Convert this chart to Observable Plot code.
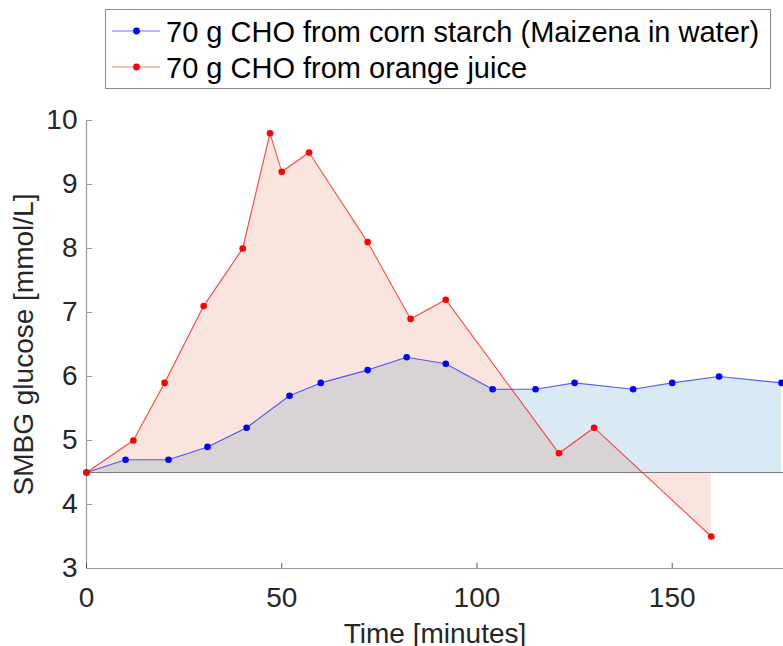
<!DOCTYPE html>
<html>
<head>
<meta charset="utf-8">
<script src="https://cdn.jsdelivr.net/npm/d3@7"></script>
<script src="https://cdn.jsdelivr.net/npm/@observablehq/plot@0.6"></script>
<style>
  body { margin: 0; background: #fff; font-family: "Liberation Sans", Arial, Helvetica, sans-serif; }
  #legend { width: 783px; height: 100px; }
  #legend svg, #chart svg { display: block; }
</style>
</head>
<body>
<div id="legend"></div>
<div id="chart"></div>
<script>
// ---- Data ----
const seriesNames = ["70 g CHO from corn starch (Maizena in water)", "70 g CHO from orange juice"];
const seriesColors = ["blue", "red"];
const starchTime = [0, 10, 21, 31, 41, 52, 60, 72, 82, 92, 104, 115, 125, 140, 150, 162, 178];
const starchGlucose = [4.5, 4.7, 4.7, 4.9, 5.2, 5.7, 5.9, 6.1, 6.3, 6.2, 5.8, 5.8, 5.9, 5.8, 5.9, 6.0, 5.9];
const juiceTime = [0, 12, 20, 30, 40, 47, 50, 57, 72, 83, 92, 121, 130, 160];
const juiceGlucose = [4.5, 5.0, 5.9, 7.1, 8.0, 9.8, 9.2, 9.5, 8.1, 6.9, 7.2, 4.8, 5.2, 3.5];
const baselineGlucose = 4.5;
const xTicks = [0, 50, 100, 150];
const yTicks = [3, 4, 5, 6, 7, 8, 9, 10];
const xLabel = "Time [minutes]";
const yLabel = "SMBG glucose [mmol/L]";

const starch = starchTime.map((t, i) => ({t, g: starchGlucose[i]}));
const juice = juiceTime.map((t, i) => ({t, g: juiceGlucose[i]}));

const FONT = '"Liberation Sans", Arial, Helvetica, sans-serif';
const TEXT = "#262626";
const AXIS = "#9a9a9a";

// ---- Legend (above the plot) ----
const lsvg = d3.select("#legend").append("svg").attr("width", 783).attr("height", 100)
  .style("font-family", FONT);
lsvg.append("rect").attr("x", 105.5).attr("y", 9.5).attr("width", 665).attr("height", 79)
  .attr("fill", "#fff").attr("stroke", "#8a8a8a").attr("stroke-width", 1);
seriesNames.forEach((name, i) => {
  const yy = 31 + i * 36;
  const g = lsvg.append("g");
  g.append("line").attr("x1", 112).attr("x2", 160).attr("y1", yy).attr("y2", yy)
    .attr("stroke", seriesColors[i]).attr("stroke-opacity", i === 0 ? 0.55 : 0.5).attr("stroke-width", 1.2);
  g.append("circle").attr("cx", 136.5).attr("cy", yy).attr("r", 3.4).attr("fill", seriesColors[i]);
  g.append("text").attr("x", 166).attr("y", yy + 11).attr("font-size", 29).attr("fill", "#000").text(name);
});

// ---- Chart ----
const chart = Plot.plot({
  width: 783,
  height: 546,
  marginLeft: 86,
  marginRight: 0,
  marginTop: 20,
  marginBottom: 78,
  style: {fontFamily: FONT, fontSize: "28px", color: TEXT, background: "#fff", overflow: "visible"},
  x: {domain: [0, 178.5], label: null},
  y: {domain: [3, 10], label: null},
  marks: [
    Plot.areaY(starch, {x: "t", y1: baselineGlucose, y2: "g", fill: "#0072bd", fillOpacity: 0.15}),
    Plot.areaY(juice, {x: "t", y1: baselineGlucose, y2: "g", fill: "#d95319", fillOpacity: 0.15}),
    Plot.ruleY([baselineGlucose], {stroke: "#7a7a7a", strokeWidth: 1}),
    Plot.ruleX([0], {stroke: AXIS, strokeWidth: 1.2}),
    Plot.ruleY([3], {stroke: AXIS, strokeWidth: 1.2}),
    Plot.axisX(xTicks, {tickSize: -5, tickPadding: 24, stroke: "#555", fill: TEXT, fontSize: 28, label: null, tickFormat: d => String(d)}),
    Plot.axisY(yTicks, {tickSize: -6, tickPadding: 15, stroke: AXIS, fill: TEXT, fontSize: 28, label: null, tickFormat: d => String(d)}),
    Plot.line(starch, {x: "t", y: "g", stroke: "blue", strokeOpacity: 0.6, strokeWidth: 1.1}),
    Plot.dot(starch, {x: "t", y: "g", r: 3.3, fill: "blue"}),
    Plot.line(juice, {x: "t", y: "g", stroke: "red", strokeOpacity: 0.7, strokeWidth: 1.1}),
    Plot.dot(juice, {x: "t", y: "g", r: 3.3, fill: "red"}),
    Plot.text([xLabel], {frameAnchor: "bottom", dy: 74, lineAnchor: "bottom", fontSize: 28, fill: TEXT}),
    Plot.text([yLabel], {frameAnchor: "left", dx: -54, rotate: -90, textAnchor: "middle", lineAnchor: "bottom", fontSize: 28, fill: TEXT})
  ]
});
document.getElementById("chart").appendChild(chart);
</script>
</body>
</html>
